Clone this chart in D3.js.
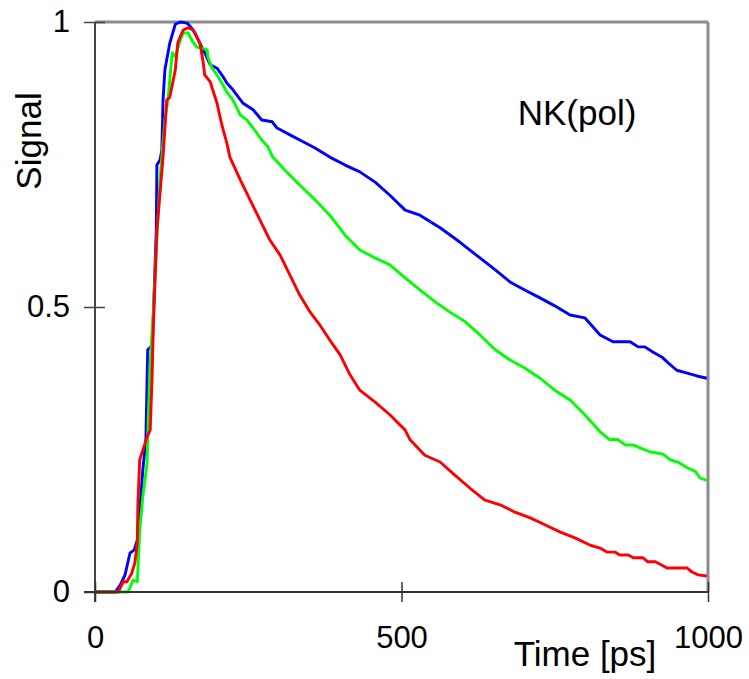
<!DOCTYPE html>
<html>
<head>
<meta charset="utf-8">
<script src="https://cdn.jsdelivr.net/npm/d3@7"></script>
<style>
  html, body { margin: 0; padding: 0; background: #fff; }
  svg { display: block; font-family: "Liberation Sans", Arial, sans-serif; }
</style>
</head>
<body>
<svg id="chart" width="749" height="679"></svg>
<script>
// ---- data ----
const xTicks = [0, 500, 1000];
const yTicks = [0, 0.5, 1];
const xTitle = "Time [ps]";
const yTitle = "Signal";
const annotation = "NK(pol)";
const seriesNames = ["blue", "green", "red"];

const blueT = [0,33,41,49,57,64,69,73,78,83,86,91,93,96,100,101,106,109,111,114,122,131,139,150,155,163,171,179,188,199,209,215,225,241,258,272,289,297,318,334,359,383,408,432,457,481,506,530,563,595,628,653,677,701,726,750,775,799,824,845,873,886,897,910,925,935,949,966,982,998];
const blueV = [0,0,0.012,0.03,0.068,0.074,0.091,0.144,0.214,0.267,0.425,0.43,0.416,0.512,0.635,0.749,0.758,0.775,0.863,0.916,0.963,0.996,1.0,0.998,0.993,0.981,0.963,0.946,0.925,0.919,0.904,0.893,0.881,0.858,0.846,0.828,0.825,0.814,0.802,0.793,0.779,0.763,0.749,0.737,0.719,0.696,0.67,0.661,0.639,0.614,0.586,0.565,0.544,0.53,0.516,0.502,0.486,0.481,0.451,0.439,0.439,0.43,0.43,0.421,0.412,0.402,0.389,0.384,0.379,0.375];

const greenT = [0,54,62,69,73,78,85,86,90,95,100,106,114,119,126,131,139,144,152,158,166,175,183,184,191,199,207,215,225,237,248,258,272,282,290,310,334,359,383,408,432,457,481,506,530,555,579,604,628,653,677,701,726,750,775,799,824,840,852,865,878,889,905,927,938,951,966,979,987,998];
const greenV = [0,0,0.021,0.018,0.109,0.167,0.226,0.272,0.402,0.489,0.6,0.723,0.828,0.863,0.946,0.939,0.968,0.981,0.981,0.968,0.956,0.954,0.951,0.939,0.919,0.907,0.893,0.877,0.863,0.837,0.828,0.814,0.793,0.781,0.763,0.74,0.714,0.688,0.661,0.626,0.6,0.586,0.574,0.551,0.53,0.509,0.491,0.474,0.451,0.425,0.407,0.393,0.375,0.354,0.337,0.311,0.281,0.267,0.268,0.258,0.258,0.253,0.246,0.242,0.232,0.228,0.218,0.212,0.2,0.196];

const redT = [0,38,46,52,60,65,69,70,73,78,85,90,93,95,98,101,111,117,122,131,135,139,144,152,160,166,171,176,179,188,192,199,204,209,215,220,237,253,269,285,302,318,334,351,367,383,400,416,432,457,481,506,514,538,563,587,612,636,661,685,710,734,759,783,808,824,835,848,856,870,878,894,902,914,925,933,966,974,984,998];
const redV = [0,0,0.018,0.018,0.033,0.051,0.086,0.156,0.232,0.249,0.272,0.284,0.372,0.46,0.547,0.635,0.763,0.863,0.868,0.916,0.963,0.974,0.986,0.99,0.986,0.974,0.963,0.933,0.907,0.895,0.881,0.858,0.833,0.811,0.788,0.763,0.723,0.688,0.653,0.618,0.591,0.556,0.521,0.491,0.468,0.442,0.416,0.381,0.354,0.333,0.311,0.284,0.267,0.24,0.228,0.205,0.182,0.161,0.153,0.14,0.13,0.118,0.105,0.095,0.082,0.077,0.07,0.07,0.065,0.065,0.06,0.06,0.053,0.053,0.047,0.042,0.042,0.035,0.03,0.028];

// ---- drawing ----
const colors = {blue: "#0000ff", green: "#00ff00", red: "#ff0000"};
const series = [
  {name: "blue", t: blueT, v: blueV},
  {name: "green", t: greenT, v: greenV},
  {name: "red", t: redT, v: redV}
];

const margin = {left: 95, right: 41, top: 22, bottom: 87};
const W = 749, H = 679;
const svg = d3.select("#chart");

const x = d3.scaleLinear().domain([0, 1000]).range([margin.left, W - margin.right]);
const y = d3.scaleLinear().domain([0, 1]).range([H - margin.bottom, margin.top]);

const x0 = x(0), x1 = x(1000), y0 = y(0), y1 = y(1);

// frame: top and right in light gray
svg.append("line").attr("x1", x0).attr("x2", x1).attr("y1", y1).attr("y2", y1)
  .attr("stroke", "#8c8c8c").attr("stroke-width", 3);
svg.append("line").attr("x1", x1).attr("x2", x1).attr("y1", y1).attr("y2", y0)
  .attr("stroke", "#8c8c8c").attr("stroke-width", 3);

// curves
const line = d3.line().x(d => x(d[0])).y(d => y(d[1]));
series.forEach(s => {
  const pts = s.t.map((t, i) => [t, s.v[i]]);
  svg.append("path").datum(pts)
    .attr("d", line)
    .attr("fill", "none")
    .attr("stroke", colors[s.name])
    .attr("stroke-width", 2.9)
    .attr("stroke-linejoin", "round");
});

// y axis
const yAxis = d3.axisLeft(y).tickValues(yTicks).tickFormat(d3.format("")).tickSize(11).tickPadding(14);
const gy = svg.append("g").attr("transform", `translate(${x0},0)`).call(yAxis);
gy.select(".domain").remove();
gy.selectAll(".tick line").attr("x1", -11).attr("x2", 10).attr("stroke", "#444").attr("stroke-width", 1.5);
gy.selectAll(".tick text").attr("font-size", 31).attr("fill", "#000")
  .attr("font-family", "'Liberation Sans', Arial, sans-serif");
svg.append("line").attr("x1", x0).attr("x2", x0).attr("y1", y1).attr("y2", y0 + 10)
  .attr("stroke", "#444").attr("stroke-width", 2);

// x axis
const xAxis = d3.axisBottom(x).tickValues(xTicks).tickFormat(d3.format("")).tickSize(10).tickPadding(24);
const gx = svg.append("g").attr("transform", `translate(0,${y0})`).call(xAxis);
gx.select(".domain").remove();
gx.selectAll(".tick line").attr("y1", -10).attr("y2", 10).attr("stroke", "#333").attr("stroke-width", 1.5);
gx.selectAll(".tick text").attr("font-size", 31).attr("fill", "#000")
  .attr("font-family", "'Liberation Sans', Arial, sans-serif");
svg.append("line").attr("x1", x0 - 11).attr("x2", x1).attr("y1", y0).attr("y2", y0)
  .attr("stroke", "#333").attr("stroke-width", 2);

// titles
svg.append("text").attr("x", 585).attr("y", 666).attr("text-anchor", "middle")
  .attr("font-size", 35).attr("fill", "#000").text(xTitle);
svg.append("text").attr("transform", "translate(41,141) rotate(-90)").attr("text-anchor", "middle")
  .attr("font-size", 35).attr("fill", "#000").text(yTitle);
svg.append("text").attr("x", 577).attr("y", 125).attr("text-anchor", "middle")
  .attr("font-size", 35).attr("fill", "#000").text(annotation);
</script>
</body>
</html>
